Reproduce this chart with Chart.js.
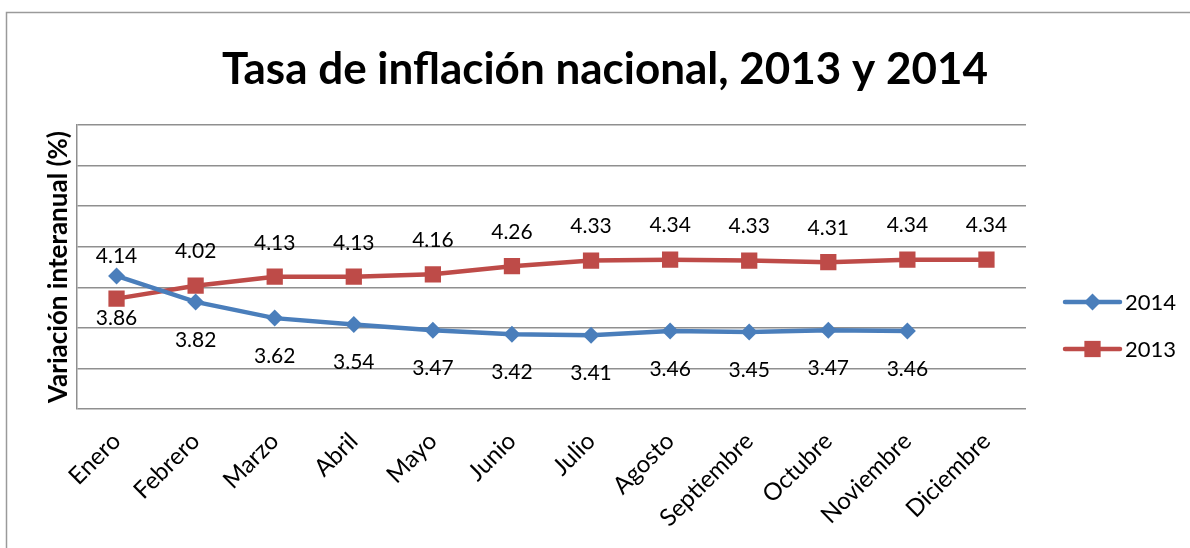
<!DOCTYPE html>
<html>
<head>
<meta charset="utf-8">
<script src="https://cdn.jsdelivr.net/npm/chart.js@4"></script>
<style>
html,body{margin:0;padding:0;background:#fff;}
#wrap{position:relative;width:1190px;height:548px;}
</style>
</head>
<body>
<div id="wrap"><canvas id="c" width="1190" height="548"></canvas></div>
<script>
// ---- Data ----
const months = ['Enero','Febrero','Marzo','Abril','Mayo','Junio','Julio','Agosto','Septiembre','Octubre','Noviembre','Diciembre'];
const values2014 = [4.14,3.82,3.62,3.54,3.47,3.42,3.41,3.46,3.45,3.47,3.46,null];
const values2013 = [3.86,4.02,4.13,4.13,4.16,4.26,4.33,4.34,4.33,4.31,4.34,4.34];
const seriesNames = ['2014','2013'];
const titleText = 'Tasa de inflación nacional, 2013 y 2014';
const yAxisTitle = 'Variación interanual (%)';
const yMin = 2.5, yMax = 6.0, yStep = 0.5;

// ---- Styles ----
const BLUE = '#4A7EBB';
const RED = '#BE4B48';
const GRID = '#8f8f8f';
const FONT = 'Lato, "Open Sans", sans-serif';

const framePlugin = {
  id: 'frame',
  beforeDraw(chart) {
    const ctx = chart.ctx;
    ctx.save();
    ctx.strokeStyle = '#9a9a9a';
    ctx.lineWidth = 1.5;
    ctx.beginPath();
    ctx.moveTo(6.5, 548);
    ctx.lineTo(6.5, 12.5);
    ctx.lineTo(1190, 12.5);
    ctx.stroke();
    ctx.restore();
  }
};

const pointLabelPlugin = {
  id: 'pointLabels',
  afterDatasetsDraw(chart, args, opts) {
    const ctx = chart.ctx;
    ctx.save();
    ctx.font = opts.font;
    ctx.fillStyle = opts.color;
    ctx.textAlign = 'center';
    ctx.textBaseline = 'middle';
    chart.data.datasets.forEach((ds, i) => {
      const meta = chart.getDatasetMeta(i);
      const offs = opts.offsets[i];
      meta.data.forEach((pt, j) => {
        const v = ds.data[j];
        if (v === null || v === undefined) return;
        const off = j === 0 ? offs.first : offs.rest;
        ctx.fillText(v.toFixed(2), pt.x, pt.y + off);
      });
    });
    ctx.restore();
  }
};

function drawMarker(ctx, style, x, y, r, color) {
  ctx.fillStyle = color;
  ctx.beginPath();
  if (style === 'rectRot') {
    ctx.moveTo(x - r, y); ctx.lineTo(x, y - r); ctx.lineTo(x + r, y); ctx.lineTo(x, y + r);
  } else {
    const s = Math.SQRT1_2 * r;
    ctx.rect(x - s, y - s, 2 * s, 2 * s);
  }
  ctx.closePath();
  ctx.fill();
}

const legendPlugin = {
  id: 'sideLegend',
  afterDraw(chart, args, opts) {
    const ctx = chart.ctx;
    const area = chart.chartArea;
    ctx.save();
    chart.data.datasets.forEach((ds, i) => {
      const y = area.top + opts.firstY + i * opts.gap;
      const x0 = area.right + opts.lineStart;
      const x1 = x0 + opts.lineLen;
      ctx.strokeStyle = ds.borderColor;
      ctx.lineWidth = ds.borderWidth;
      ctx.lineCap = 'round';
      ctx.beginPath();
      ctx.moveTo(x0, y); ctx.lineTo(x1, y); ctx.stroke();
      drawMarker(ctx, ds.pointStyle, (x0 + x1) / 2, y, ds.pointRadius, ds.backgroundColor);
      ctx.fillStyle = '#000';
      ctx.font = opts.font;
      ctx.textAlign = 'left';
      ctx.textBaseline = 'middle';
      ctx.fillText(ds.label, x1 + 5, y + 1);
    });
    ctx.restore();
  }
};

function build() {
  new Chart(document.getElementById('c'), {
    type: 'line',
    data: {
      labels: months,
      datasets: [
        { label: seriesNames[0], data: values2014, borderColor: BLUE, backgroundColor: BLUE,
          borderWidth: 4.5, pointStyle: 'rectRot', pointRadius: 8.5, pointHoverRadius: 8.5,
          pointBorderWidth: 0, tension: 0, spanGaps: false },
        { label: seriesNames[1], data: values2013, borderColor: RED, backgroundColor: RED,
          borderWidth: 4.5, pointStyle: 'rect', pointRadius: 11.5, pointHoverRadius: 11.5,
          pointBorderWidth: 0, tension: 0 }
      ]
    },
    options: {
      responsive: false,
      animation: false,
      events: [],
      layout: { padding: { left: 20, right: 0, top: 0, bottom: 0 } },
      plugins: {
        legend: { display: false },
        tooltip: { enabled: false },
        title: {
          display: true, text: titleText, color: '#000',
          font: { family: FONT, size: 44, weight: 'bold', lineHeight: 1.2 },
          padding: { top: 43.6, bottom: 28.6 }
        },
        pointLabels: {
          font: '21px ' + FONT, color: '#000',
          offsets: [ { first: -20, rest: 38 }, { first: 20, rest: -34 } ]
        },
        sideLegend: { font: '22px ' + FONT, firstY: 177, gap: 47, lineStart: 39, lineLen: 55 }
      },
      scales: {
        x: {
          offset: true,
          grid: { display: false, drawTicks: false },
          border: { display: false },
          ticks: { color: '#000', font: { family: FONT, size: 24 }, maxRotation: 45, minRotation: 45,
                   autoSkip: false, padding: 18 },
          afterFit(scale) { scale.height = 139; }
        },
        y: {
          min: yMin, max: yMax,
          ticks: { display: false, stepSize: yStep },
          grid: { color: GRID, lineWidth: 1.5, drawTicks: false },
          border: { display: true, color: GRID, width: 1.5 },
          title: { display: true, text: yAxisTitle, color: '#000',
                   font: { family: FONT, size: 26, weight: 'bold', lineHeight: 1.2 },
                   padding: { top: 23.4, bottom: 0 } },
          afterFit(scale) { scale.width = 57; }
        },
        legendSpace: {
          type: 'linear', position: 'right', min: yMin, max: yMax,
          ticks: { display: false },
          grid: { display: false, drawTicks: false },
          border: { display: false },
          afterFit(scale) { scale.width = 164; }
        }
      }
    },
    plugins: [framePlugin, pointLabelPlugin, legendPlugin]
  });
}

Promise.all([
  document.fonts.load('bold 44px Lato'),
  document.fonts.load('22px Lato')
]).then(build, build);
</script>
</body>
</html>
